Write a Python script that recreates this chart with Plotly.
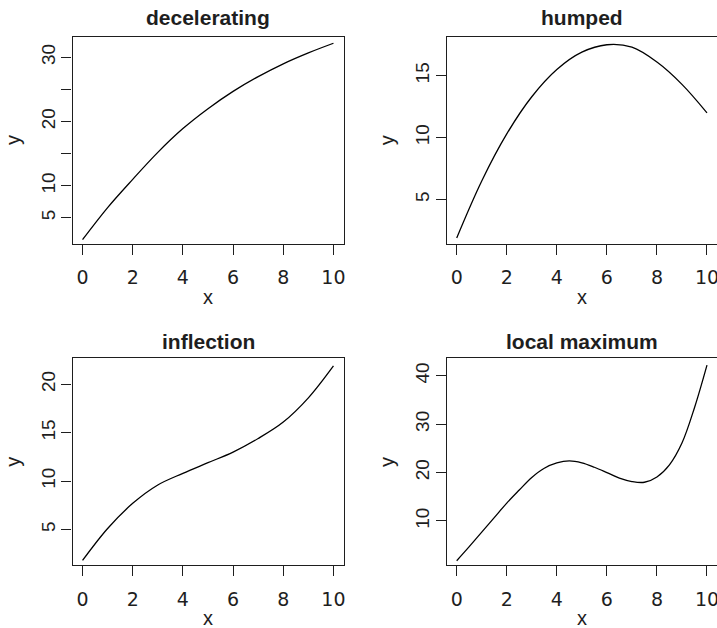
import plotly.graph_objects as go

W, H = 717, 628

# ---- data ----
x_int = [0, 1, 2, 3, 4, 5, 6, 7, 8, 9, 10]
decelerating = [1.6, 6.6, 11.0, 15.2, 18.9, 22.0, 24.7, 27.0, 29.0, 30.7, 32.2]
humped = [1.9, 6.5, 10.3, 13.3, 15.5, 16.9, 17.5, 17.3, 16.1, 14.3, 12.0]
inflection = [1.8, 5.1, 7.7, 9.6, 10.8, 11.9, 13.0, 14.4, 16.1, 18.6, 21.9]
x_half = [0, 0.5, 1, 1.5, 2, 2.5, 3, 3.5, 4, 4.5, 5, 5.5, 6, 6.5, 7, 7.5, 8, 8.5, 9, 9.5, 10]
local_maximum = [1.8, 4.7, 7.7, 10.7, 13.7, 16.4, 19.0, 20.9, 22.0, 22.4, 22.0, 21.1, 20.0,
                 18.85, 18.15, 18.0, 19.1, 21.6, 26.1, 33.4, 42.2]

titles = ["decelerating", "humped", "inflection", "local maximum"]
x_ticks = [0, 2, 4, 6, 8, 10]
y_ticks = [[5, 10, 15, 20, 25, 30], [5, 10, 15], [5, 10, 15, 20], [10, 20, 30, 40]]
y_ticktext = [["5", "10", "", "20", "", "30"], ["5", "10", "15"], ["5", "10", "15", "20"],
              ["10", "20", "30", "40"]]
y_ranges = [[1.0, 33.22], [1.45, 18.15], [1.31, 22.69], [0.87, 43.6]]
x_range = [-0.4, 10.4]

series_x = [x_int, x_int, x_int, x_half]
series_y = [decelerating, humped, inflection, local_maximum]

# ---- layout geometry (pixels) ----
xdoms = [[72.5 / W, 343.5 / W], [446.7 / W, 1.0], [72.5 / W, 343.5 / W], [446.7 / W, 1.0]]
top_dom = [1 - 243.5 / H, 1 - 36.7 / H]
bot_dom = [1 - 565.2 / H, 1 - 358.3 / H]
ydoms = [top_dom, top_dom, bot_dom, bot_dom]
title_shift = [6.0, 6.0, 3.0, 3.0]

ink = "#1e1e1e"
fig = go.Figure()
annotations = []
for i in range(4):
    n = "" if i == 0 else str(i + 1)
    fig.add_trace(go.Scatter(
        x=series_x[i], y=series_y[i], mode="lines",
        line=dict(color="black", width=1.3, shape="spline"),
        xaxis="x" + n, yaxis="y" + n, showlegend=False, hoverinfo="skip"))
    right_panel = i in (1, 3)
    fig.update_layout(**{
        "xaxis" + n: dict(
            domain=xdoms[i], range=x_range, anchor="y" + n,
            tickvals=x_ticks, ticktext=[str(t) for t in x_ticks],
            ticks="outside", ticklen=10, tickwidth=1.2, tickcolor=ink,
            showline=True, linecolor=ink, linewidth=1.2, mirror=True,
            showgrid=False, zeroline=False,
            tickfont=dict(family="DejaVu Sans", size=19, color=ink),
            ticklabelstandoff=7, ticklabeloverflow="allow"),
        "yaxis" + n: dict(
            domain=ydoms[i], range=y_ranges[i], anchor="x" + n,
            tickvals=y_ticks[i], ticktext=y_ticktext[i], tickangle=-90,
            ticks="outside", ticklen=10, tickwidth=1.2, tickcolor=ink,
            showline=True, linecolor=ink, linewidth=1.2,
            mirror=(False if right_panel else True),
            showgrid=False, zeroline=False,
            tickfont=dict(family="Liberation Sans, Arial", size=19, color=ink),
            ticklabelstandoff=-1, ticklabeloverflow="allow"),
    })
    annotations.append(dict(
        text="<b>" + titles[i] + "</b>", xref="x" + n + " domain", yref="y" + n + " domain",
        x=0.5, y=1, xanchor="center", yanchor="bottom", yshift=title_shift[i], showarrow=False,
        font=dict(family="Liberation Sans, Arial", size=21, color=ink)))
    annotations.append(dict(
        text="x", xref="x" + n + " domain", yref="y" + n + " domain",
        x=0.5, y=0, xanchor="center", yanchor="middle", yshift=-53, showarrow=False,
        font=dict(family="Liberation Sans, Arial", size=20, color=ink)))
    annotations.append(dict(
        text="y", xref="x" + n + " domain", yref="y" + n + " domain",
        x=0, y=0.5, xanchor="center", yanchor="middle", xshift=-59.5, textangle=-90,
        showarrow=False,
        font=dict(family="Liberation Sans, Arial", size=20, color=ink)))

fig.update_layout(
    width=W, height=H, margin=dict(l=0, r=0, t=0, b=0, autoexpand=False),
    paper_bgcolor="white", plot_bgcolor="white",
    annotations=annotations, showlegend=False)

fig.write_html("out.html", config={"displayModeBar": False},
               post_script="document.body.style.margin='0';")
